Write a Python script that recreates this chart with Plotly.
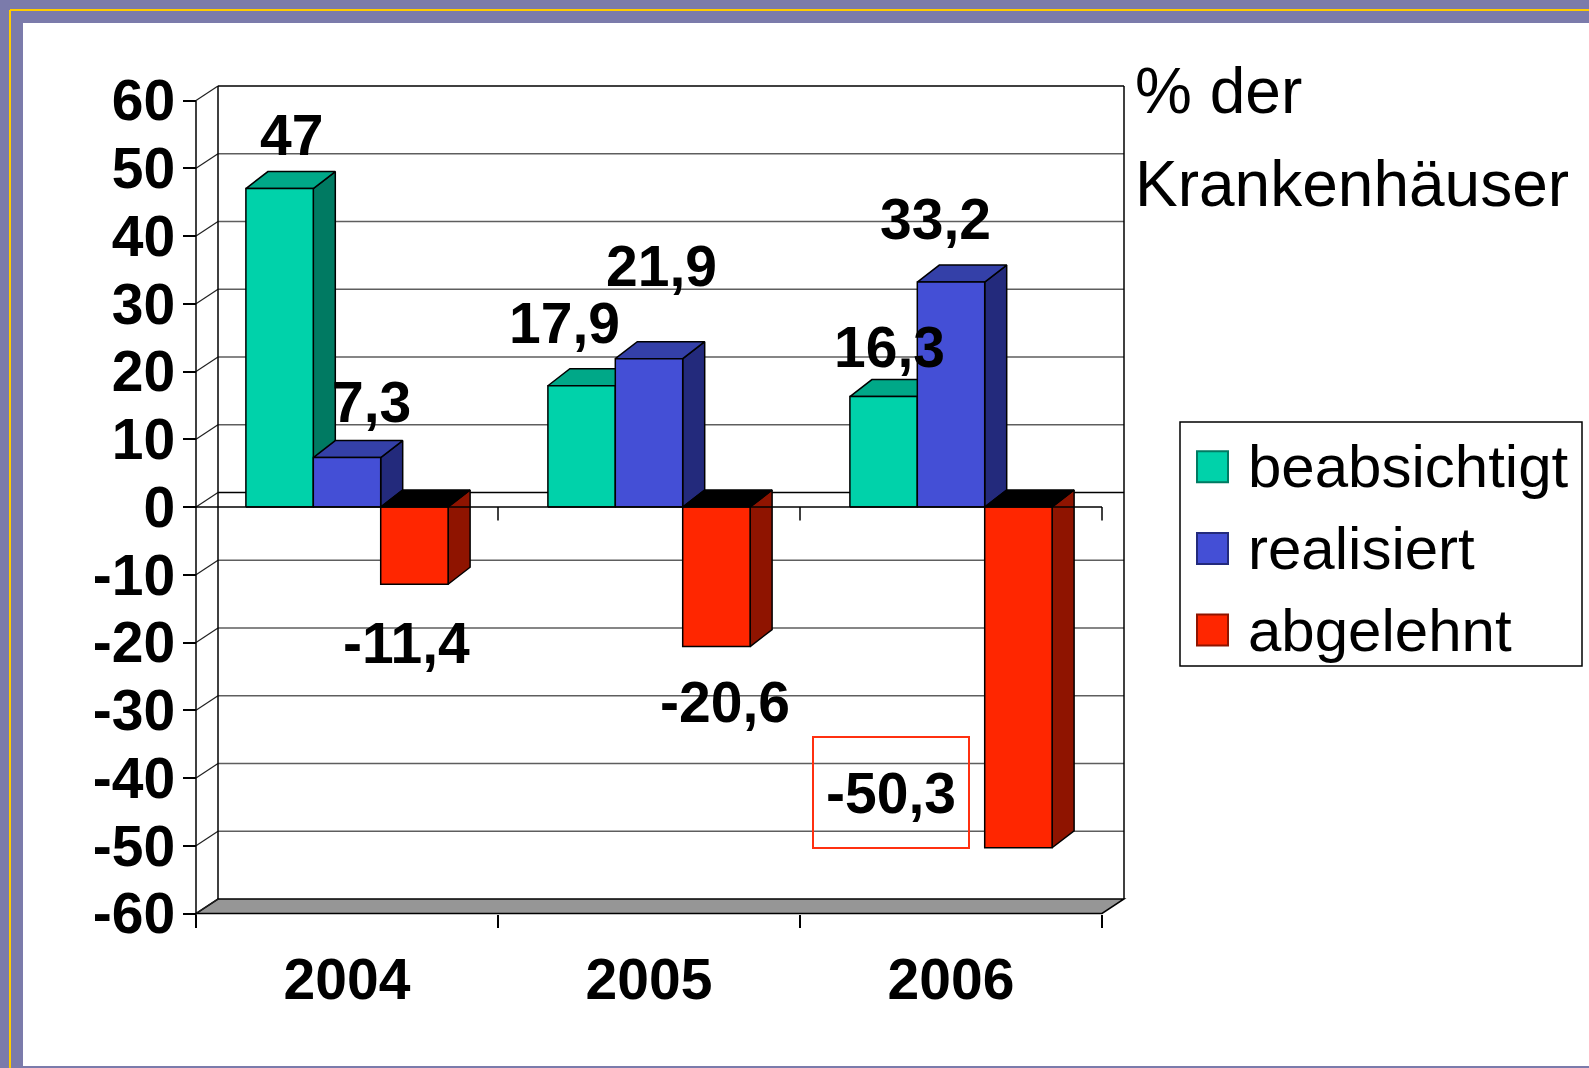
import plotly.graph_objects as go

# --- data -------------------------------------------------------------
years = ["2004", "2005", "2006"]
series_names = ["beabsichtigt", "realisiert", "abgelehnt"]
beabsichtigt = [47, 17.9, 16.3]
realisiert = [7.3, 21.9, 33.2]
abgelehnt = [-11.4, -20.6, -50.3]
y_ticks = [-60, -50, -40, -30, -20, -10, 0, 10, 20, 30, 40, 50, 60]
unit_lines = ["% der", "Krankenhäuser"]

series_values = [beabsichtigt, realisiert, abgelehnt]

# --- style ------------------------------------------------------------
# (front, top, side) colour per series
face_colors = [
    ("#00D2AA", "#00A888", "#007A62"),
    ("#444FD6", "#3440A8", "#232A7C"),
    ("#FF2600", "#000000", "#8F1400"),
]
# label offsets in px from (bar front centre, value)
label_shifts = [
    [(12, 54), (-17, 63), (6, 50)],
    [(24, 56), (12, 93), (-16, 63)],
    [(-8, -59), (9, -55), (-127, 55)],
]
FONT = "Liberation Sans, Arial, sans-serif"
W, H = 1589, 1068
ML, MR, MT, MB = 187, 454, 70, 136
PW, PH = W - ML - MR, H - MT - MB

# pixel geometry of the chart frame
X_LEFT_PX = 196      # left edge of first category
CAT_PX = 302         # width of one category
Y_ZERO_PX = 507      # value 0
UNIT_PX = 6.775      # px per percent
BAR_W = 67.4 / CAT_PX
DX = 22 / CAT_PX
DY_WALL = 14.5 / UNIT_PX
DY_BAR = 17 / UNIT_PX
TICK = 13.5


def x_of_px(px):
    return -0.5 + (px - X_LEFT_PX) / CAT_PX


def y_of_py(py):
    return (Y_ZERO_PX - py) / UNIT_PX


def paper_x(px):
    return (px - ML) / PW


def paper_y(py):
    return 1 - (py - MT) / PH


def face_path(values, j, face):
    xs, ys = [], []
    for i, v in enumerate(values):
        xl = i - 1.5 * BAR_W + j * BAR_W
        xr = xl + BAR_W
        top = max(v, 0)
        if face == "front":
            pts = [(xl, 0), (xr, 0), (xr, v), (xl, v)]
        elif face == "side":
            pts = [(xr, 0), (xr, v), (xr + DX, v + DY_BAR), (xr + DX, DY_BAR)]
        else:
            pts = [(xl, top), (xr, top), (xr + DX, top + DY_BAR), (xl + DX, top + DY_BAR)]
        for x, y in pts + [pts[0]]:
            xs.append(x)
            ys.append(y)
        xs.append(None)
        ys.append(None)
    return xs, ys


fig = go.Figure()

# painter's order: all sides, then tops, then fronts
for face, ci in (("side", 2), ("top", 1), ("front", 0)):
    for j, values in enumerate(series_values):
        xs, ys = face_path(values, j, face)
        fig.add_trace(go.Scatter(
            x=xs, y=ys, mode="lines", fill="toself",
            fillcolor=face_colors[j][ci],
            line=dict(color="black", width=1.5),
            hoverinfo="skip", showlegend=False,
        ))

x_first, x_last = -0.5, len(years) - 0.5
y_min, y_max = y_ticks[0], y_ticks[-1]

shapes = [
    # slide background
    dict(type="rect", xref="paper", yref="paper", layer="below",
         x0=paper_x(23), x1=paper_x(W + 10), y0=paper_y(23), y1=paper_y(1066),
         fillcolor="white", line=dict(width=0)),
    dict(type="line", xref="paper", yref="paper", layer="below",
         x0=paper_x(10), x1=paper_x(W + 10), y0=paper_y(10), y1=paper_y(10),
         line=dict(color="#FFCC00", width=2)),
    dict(type="line", xref="paper", yref="paper", layer="below",
         x0=paper_x(10), x1=paper_x(10), y0=paper_y(10), y1=paper_y(H + 10),
         line=dict(color="#FFCC00", width=2)),
    # floor
    dict(type="path", layer="below", fillcolor="#969696",
         line=dict(color="black", width=1.5),
         path=f"M {x_first},{y_min} L {x_last},{y_min} "
              f"L {x_last + DX},{y_min + DY_WALL} L {x_first + DX},{y_min + DY_WALL} Z"),
]
for v in y_ticks[1:]:
    dark = v in (0, y_max)
    shapes.append(dict(type="line", layer="below",
                       x0=x_first + DX, x1=x_last + DX, y0=v + DY_WALL, y1=v + DY_WALL,
                       line=dict(color="black" if dark else "#5E5E5E", width=1.6)))
for v in y_ticks:
    shapes.append(dict(type="line", layer="below",
                       x0=x_first, x1=x_first + DX, y0=v, y1=v + DY_WALL,
                       line=dict(color="#202020", width=1.2)))
for xe in (x_first + DX, x_last + DX):
    shapes.append(dict(type="line", layer="below",
                       x0=xe, x1=xe, y0=y_min + DY_WALL, y1=y_max + DY_WALL,
                       line=dict(color="black", width=1.5)))
# front value axis line
shapes.append(dict(type="line", layer="below",
                   x0=x_first, x1=x_first, y0=y_max, y1=y_min - TICK / UNIT_PX,
                   line=dict(color="black", width=1.5)))
# category axis at zero with ticks
shapes.append(dict(type="line", layer="above",
                   x0=x_first, x1=x_last, y0=0, y1=0,
                   line=dict(color="black", width=1.5)))
for k in range(1, len(years) + 1):
    xb = x_first + k
    shapes.append(dict(type="line", layer="above",
                       x0=xb, x1=xb, y0=0, y1=-TICK / UNIT_PX,
                       line=dict(color="black", width=1.5)))

annotations = []
for j, values in enumerate(series_values):
    for i, v in enumerate(values):
        sx, sy = label_shifts[j][i]
        boxed = (j == 2 and i == 2)
        ann = dict(
            x=i + (j - 1) * BAR_W, y=v, xshift=sx, yshift=sy,
            text=f"{v:g}".replace(".", ","), showarrow=False,
            xanchor="center", yanchor="middle",
            font=dict(family=FONT, size=57, color="black", weight="bold"),
        )
        if boxed:
            ann.update(bordercolor="#FF3010", borderwidth=2, borderpad=0,
                       width=154, height=109)
        annotations.append(ann)

# unit text
for k, (line_text, cy) in enumerate(zip(unit_lines, (91, 184))):
    annotations.append(dict(
        xref="paper", yref="paper", x=paper_x(1133), y=paper_y(cy),
        text=line_text, showarrow=False, xanchor="left", yanchor="middle",
        font=dict(family=FONT, size=64, color="black"),
    ))

# legend drawn by hand so that the keys can be as large as in the original
shapes.append(dict(type="rect", xref="paper", yref="paper", layer="above",
                   x0=paper_x(1180), x1=paper_x(1582), y0=paper_y(422), y1=paper_y(666),
                   fillcolor="white", line=dict(color="black", width=1.5)))
for j, name in enumerate(series_names):
    cy = 466.7 + j * 81.7
    shapes.append(dict(type="rect", xref="paper", yref="paper", layer="above",
                       x0=paper_x(1197), x1=paper_x(1228),
                       y0=paper_y(cy - 15.5), y1=paper_y(cy + 15.5),
                       fillcolor=face_colors[j][0],
                       line=dict(color=face_colors[j][2], width=2)))
    annotations.append(dict(
        xref="paper", yref="paper", x=paper_x(1246), y=paper_y(cy),
        text=name, showarrow=False, xanchor="left", yanchor="middle",
        font=dict(family=FONT, size=60, color="black"),
    ))

fig.update_layout(
    width=W, height=H,
    margin=dict(l=ML, r=MR, t=MT, b=MB, pad=0),
    paper_bgcolor="#7B7BAB", plot_bgcolor="rgba(0,0,0,0)",
    showlegend=False,
    shapes=shapes, annotations=annotations,
    xaxis=dict(
        range=[x_of_px(ML), x_of_px(ML + PW)],
        anchor="free", position=paper_y(913.5),
        tickmode="array", tickvals=list(range(len(years))), ticktext=years,
        ticks="", showline=False, showgrid=False, zeroline=False,
        minor=dict(tickmode="array", tickvals=[x_first + k for k in range(len(years) + 1)],
                   ticks="outside", ticklen=TICK, tickwidth=1.5, tickcolor="black"),
        tickfont=dict(family=FONT, size=57, color="black", weight="bold"),
        ticklabelstandoff=27, automargin=False, fixedrange=True,
    ),
    yaxis=dict(
        range=[y_of_py(MT + PH), y_of_py(MT)],
        anchor="free", position=paper_x(X_LEFT_PX), side="left",
        tickmode="array", tickvals=y_ticks, ticktext=[str(v) for v in y_ticks],
        ticks="outside", ticklen=TICK, tickwidth=1.5, tickcolor="black",
        showline=False, showgrid=False, zeroline=False,
        tickfont=dict(family=FONT, size=57, color="black", weight="bold"),
        ticklabelstandoff=-4, automargin=False, fixedrange=True,
    ),
)

fig.write_html("out.html", config={"displayModeBar": False},
               post_script="document.body.style.margin='0';document.body.style.overflow='hidden';")
